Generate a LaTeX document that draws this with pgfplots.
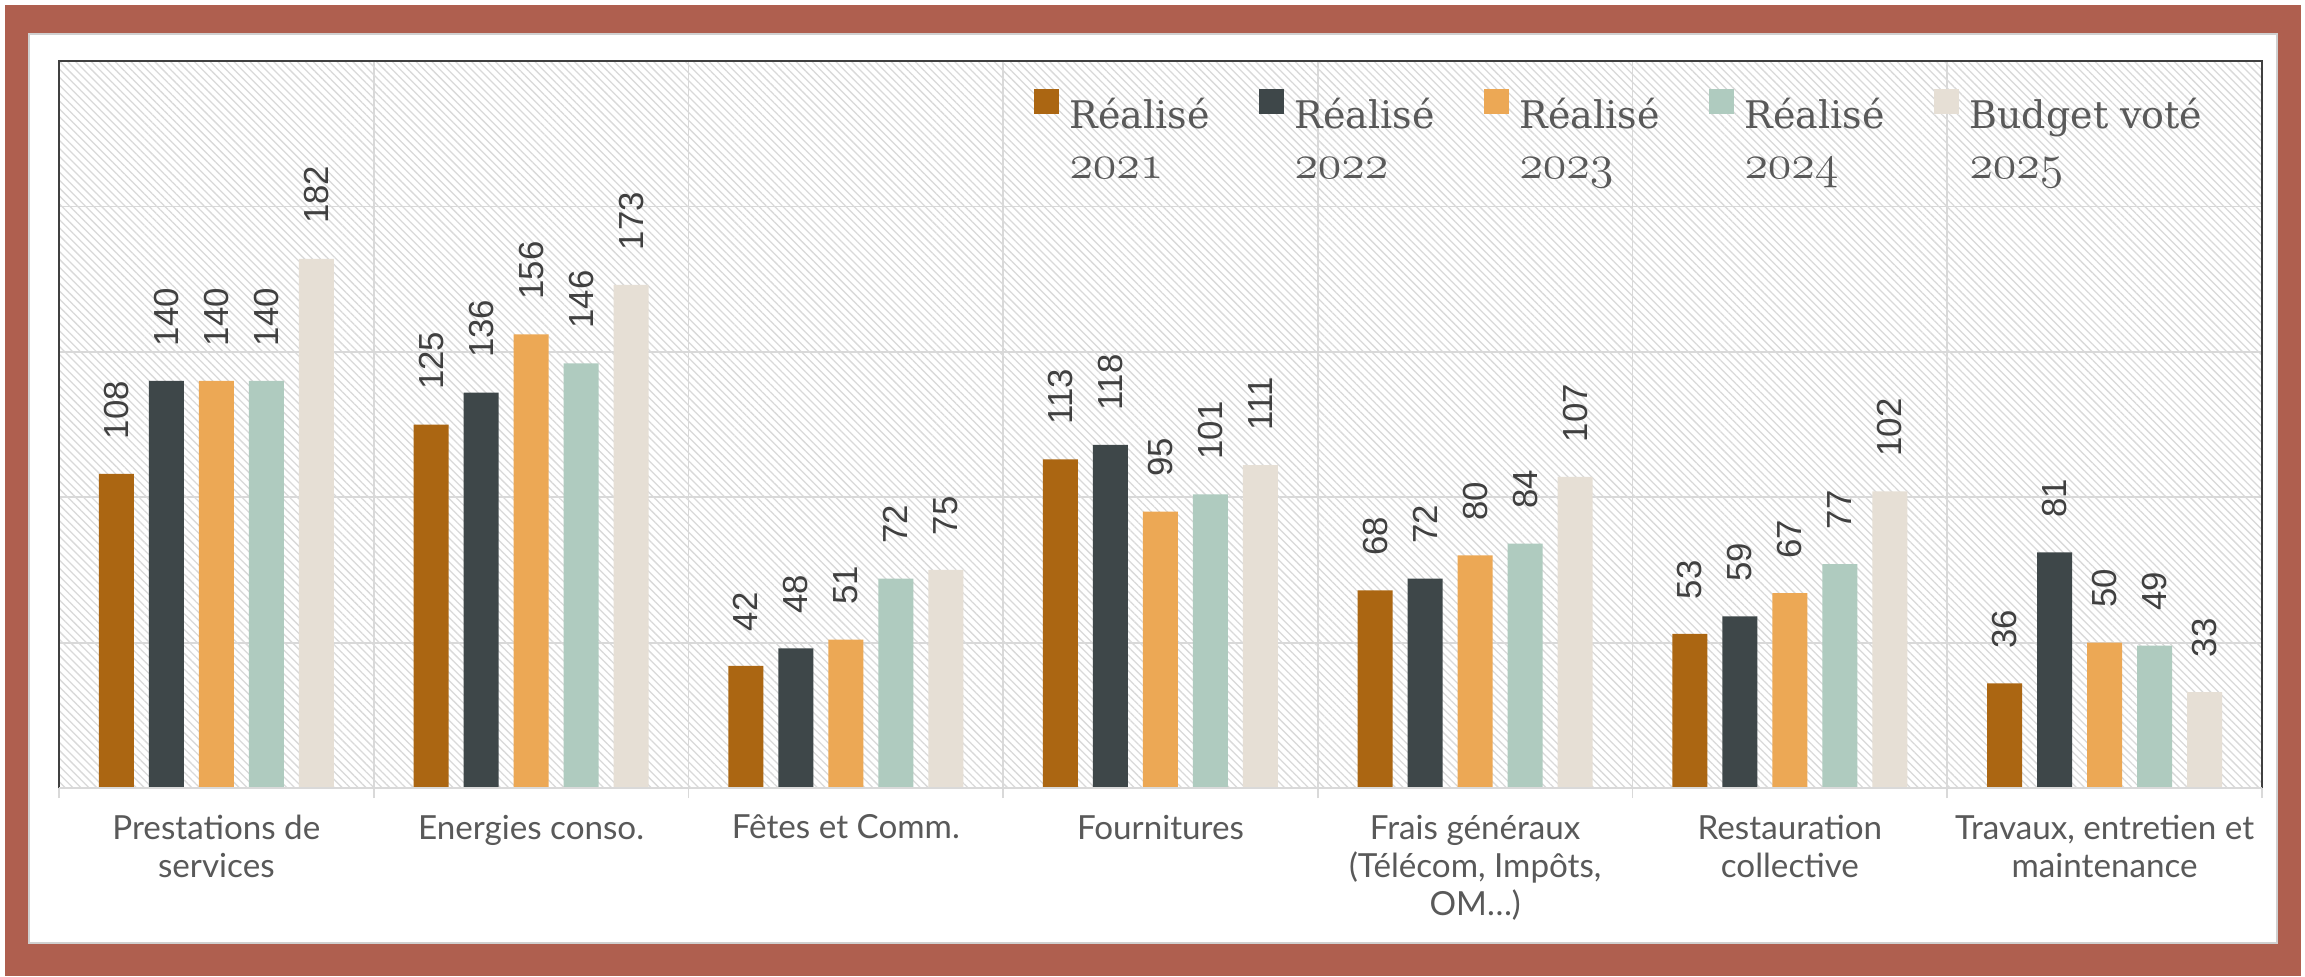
\documentclass[border=0pt]{standalone}
\usepackage{fontspec}
\usepackage{pgfplots}
\usepackage{pgfplotstable}
\pgfplotsset{compat=1.18}
\usetikzlibrary{patterns.meta}
\newfontfamily\catfont{Lato}
\newfontfamily\valfont{Liberation Sans}
\newfontfamily\legfont{DejaVu Serif}
\definecolor{c1}{HTML}{AB6612}
\definecolor{c2}{HTML}{3E4749}
\definecolor{c3}{HTML}{ECA855}
\definecolor{c4}{HTML}{AFCBBF}
\definecolor{c5}{HTML}{E6DFD5}
\definecolor{brd}{HTML}{AF5F4F}
\definecolor{gridc}{HTML}{D9D9D9}
\definecolor{framec}{HTML}{404040}
\definecolor{txt}{HTML}{595959}
\definecolor{valc}{HTML}{404040}
\definecolor{hatch}{HTML}{D9D9D9}
\definecolor{shadow}{HTML}{D0D0D0}
\newcommand\osf[1]{{\usefont{OML}{cmm}{m}{it}#1}}
\newcommand\legtext[2]{\makebox[47.25pt][l]{\vtop{\baselineskip=12.5pt\hbox{#1}\hbox{\fontsize{11.5}{13}\osf{#2}}}}}
\pgfplotsset{sq legend/.style={legend image code/.code={\fill[##1] (0pt,0.5pt) rectangle (6.25pt,6.75pt);}}}
\pgfplotstableread{
x a b c d e
0 108 140 140 140 182
1 125 136 156 146 173
2 42 48 51 72 75
3 113 118 95 101 111
4 68 72 80 84 107
5 53 59 67 77 102
6 36 81 50 49 33
}\data
\begin{document}
\begin{tikzpicture}
\useasboundingbox (0pt,0pt) rectangle (576.25pt,244pt);
\fill[brd] (1.25pt,0pt) rectangle (575.25pt,242.75pt);
\fill[white, draw=shadow, line width=0.5pt] (7.25pt,8.25pt) rectangle (569.25pt,235.5pt);
\begin{axis}[
  width=550.75pt, height=181.75pt, scale only axis,
  at={(14.75pt,47pt)}, anchor=south west,
  xmin=-0.5, xmax=6.5, ymin=0, ymax=250,
  ybar=3.75pt, bar width=8.75pt,
  every axis plot post/.append style={sq legend},
  axis background/.style={pattern={Lines[angle=-45,distance=1.4pt,line width=0.32pt]}, pattern color=hatch},
  axis line style={draw=none},
  xtick={0,...,6},
  xticklabels={{Prestations de\\services},{Energies conso.},{Fêtes et Comm.},{Fournitures},{Frais généraux\\(Télécom, Impôts,\\OM…)},{Restauration\\collective},{Travaux, entretien et\\maintenance}},
  minor xtick={-0.5,0.5,...,6.5},
  xminorgrids=true, ymajorgrids=true,
  ytick={0,50,...,250}, yticklabels={},
  major tick length=0pt, minor tick length=2.5pt, tick align=outside,
  xtick pos=left, ytick pos=left,
  minor tick style={draw=gridc, line width=0.45pt},
  major grid style={draw=gridc, line width=0.45pt},
  minor grid style={draw=gridc, line width=0.45pt},
  xticklabel style={font=\catfont\fontsize{8.3}{9.5}\selectfont, text=txt, align=center, anchor=north, inner sep=0pt, yshift=-6.5pt},
  /pgf/number format/assume math mode=true,
  nodes near coords,
  every node near coord/.append style={font=\valfont\fontsize{8.7}{10}\selectfont, text=valc, rotate=90, anchor=west, inner xsep=8.5pt, inner ysep=0pt},
  legend columns=5, legend cell align=left,
  legend style={at={(0.442,0.962)}, anchor=north west, draw=none, fill=none, inner sep=0pt,
    font=\legfont\fontsize{9.5}{13}\selectfont, text=txt,
    /tikz/every odd column/.style={column sep=2.75pt},
    /tikz/every even column/.style={column sep=0pt},
    nodes={inner sep=0pt}},
  clip=false,
]
\addplot[fill=c1, draw=none] table[x=x, y=a] {\data};
\addlegendentry{\legtext{Réalisé}{2021}}
\addplot[fill=c2, draw=none] table[x=x, y=b] {\data};
\addlegendentry{\legtext{Réalisé}{2022}}
\addplot[fill=c3, draw=none] table[x=x, y=c] {\data};
\addlegendentry{\legtext{Réalisé}{2023}}
\addplot[fill=c4, draw=none] table[x=x, y=d] {\data};
\addlegendentry{\legtext{Réalisé}{2024}}
\addplot[fill=c5, draw=none] table[x=x, y=e] {\data};
\addlegendentry{\legtext{Budget voté}{2025}}
\draw[framec, line width=0.4pt] (rel axis cs:0,0) -- (rel axis cs:0,1) -- (rel axis cs:1,1) -- (rel axis cs:1,0);
\draw[gridc, line width=0.55pt] (rel axis cs:0,0) -- (rel axis cs:1,0);
\end{axis}
\end{tikzpicture}
\end{document}
